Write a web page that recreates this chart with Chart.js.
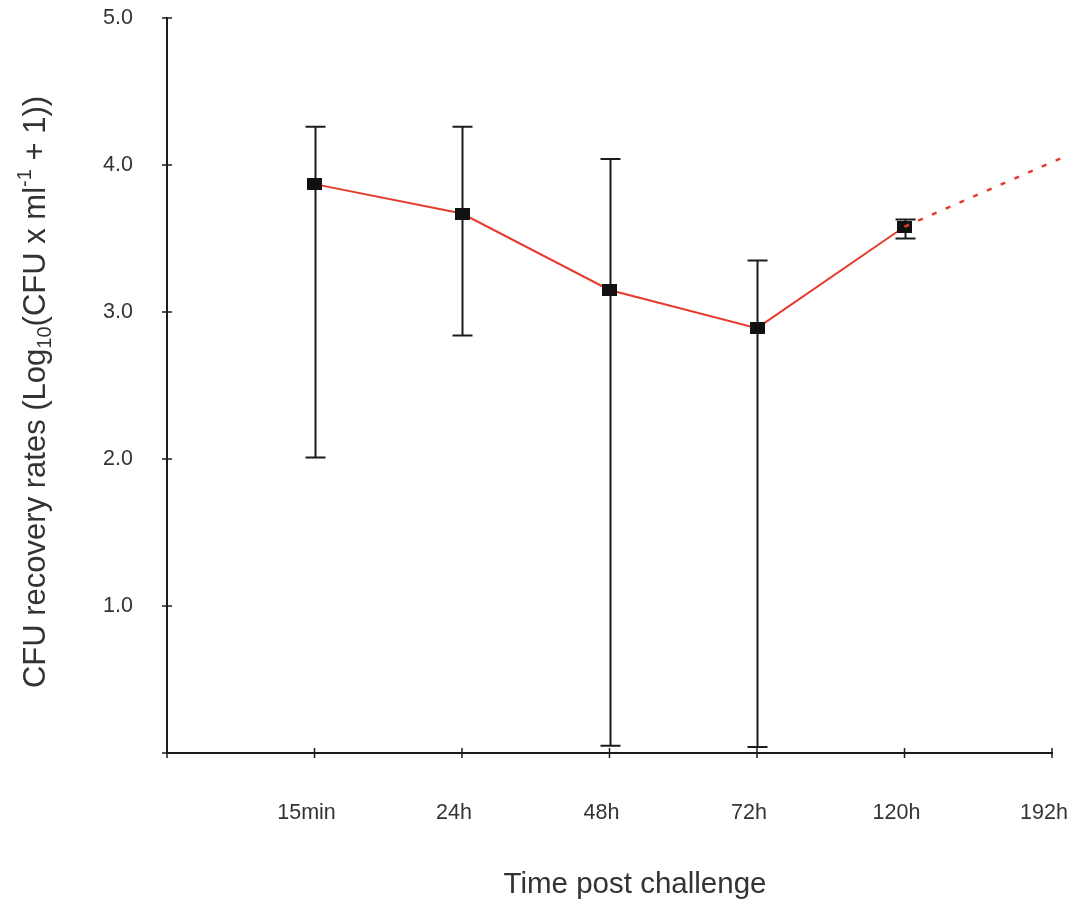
<!DOCTYPE html>
<html>
<head>
<meta charset="utf-8">
<style>
  html, body { margin: 0; padding: 0; background: #fff; }
  #wrap { width: 1068px; height: 906px; }
</style>
</head>
<body>
<div id="wrap">
  <canvas id="cfuChart" width="1068" height="906"></canvas>
</div>

<script src="https://cdnjs.cloudflare.com/ajax/libs/Chart.js/4.4.1/chart.umd.js"></script>
<script>
  // sampling times on the x axis (index 0 is the origin, left blank)
  const timeLabels = ['', '15min', '24h', '48h', '72h', '120h', '192h'];
  const timeIndex  = [1, 2, 3, 4, 5];

  // mean log10 CFU recovery and the error bar ends
  const meanLog  = [3.87, 3.67, 3.15, 2.89, 3.58];
  const errUpper = [4.26, 4.26, 4.04, 3.35, 3.63];
  const errLower = [2.01, 2.84, 0.05, 0.04, 3.50];

  // projected trend after 120h
  const projX = [5, 6.07];
  const projY = [3.58, 4.05];

  const yTicks = [0, 1, 2, 3, 4, 5];

  const FONT = '"Liberation Sans", Arial, Helvetica, sans-serif';
  const INK = '#1c1c1c';
  const TEXT = '#333333';
  const RED = '#e53b2c';

  // black rectangular marker
  const marker = document.createElement('canvas');
  marker.width = 15; marker.height = 12;
  const mctx = marker.getContext('2d');
  mctx.fillStyle = '#111';
  mctx.fillRect(0, 0, 15, 12);

  const errorBars = {
    id: 'errorBars',
    beforeDatasetsDraw(chart) {
      const { ctx, scales: { x, y } } = chart;
      ctx.save();
      ctx.strokeStyle = INK;
      ctx.lineWidth = 2;
      timeIndex.forEach((t, i) => {
        const px = Math.round(x.getPixelForValue(t)) + 0.5;
        const top = y.getPixelForValue(errUpper[i]);
        const bot = y.getPixelForValue(errLower[i]);
        ctx.beginPath();
        ctx.moveTo(px, top); ctx.lineTo(px, bot);
        ctx.moveTo(px - 10, top); ctx.lineTo(px + 10, top);
        ctx.moveTo(px - 10, bot); ctx.lineTo(px + 10, bot);
        ctx.stroke();
      });
      ctx.restore();
    }
  };

  // small tick marks crossing both axes, plus the axis titles
  const axisDecor = {
    id: 'axisDecor',
    afterDraw(chart) {
      const { ctx, scales: { x, y } } = chart;
      const ax = x.getPixelForValue(0);
      const ay = y.getPixelForValue(0);
      ctx.save();
      ctx.strokeStyle = INK;
      ctx.lineWidth = 1.5;
      ctx.beginPath();
      yTicks.forEach(v => {
        const py = y.getPixelForValue(v);
        ctx.moveTo(ax - 5, py); ctx.lineTo(ax + 5, py);
      });
      timeLabels.forEach((_, i) => {
        const px = x.getPixelForValue(i);
        ctx.moveTo(px, ay - 5); ctx.lineTo(px, ay + 5);
      });
      ctx.stroke();

      ctx.fillStyle = TEXT;
      ctx.textBaseline = 'middle';
      ctx.textAlign = 'center';
      ctx.font = '29.5px ' + FONT;
      ctx.fillText('Time post challenge', 635, 885);

      // rotated y title with subscript and superscript pieces
      const parts = [
        { t: 'CFU recovery rates (Log', s: 31, dy: 0 },
        { t: '10', s: 20, dy: 9 },
        { t: '(CFU x ml', s: 31, dy: 0 },
        { t: '-1', s: 20, dy: -11 },
        { t: ' + 1))', s: 31, dy: 0 }
      ];
      let total = 0;
      parts.forEach(p => {
        ctx.font = p.s + 'px ' + FONT;
        p.w = ctx.measureText(p.t).width;
        total += p.w;
      });
      ctx.translate(36, 392);
      ctx.rotate(-Math.PI / 2);
      ctx.textAlign = 'left';
      let cx = -total / 2;
      parts.forEach(p => {
        ctx.font = p.s + 'px ' + FONT;
        ctx.fillText(p.t, cx, p.dy);
        cx += p.w;
      });
      ctx.restore();
    }
  };

  // fixed axis box sizes, without the extra room Chart.js keeps for edge labels
  function fixBox(s, w, h) {
    if (w !== null) s.width = w;
    if (h !== null) s.height = h;
    s.paddingTop = 0; s.paddingBottom = 0;
    s.paddingLeft = 0; s.paddingRight = 0;
  }

  new Chart(document.getElementById('cfuChart'), {
    type: 'line',
    data: {
      datasets: [
        {
          label: 'projection',
          data: projX.map((v, i) => ({ x: v, y: projY[i] })),
          borderColor: RED,
          borderWidth: 2.5,
          borderDash: [5, 10],
          pointRadius: 0,
          clip: false,
          order: 0
        },
        {
          label: 'CFU recovery',
          data: timeIndex.map((v, i) => ({ x: v, y: meanLog[i] })),
          borderColor: RED,
          borderWidth: 2,
          pointStyle: marker,
          pointRadius: 7,
          clip: false,
          order: 1
        }
      ]
    },
    options: {
      responsive: false,
      animation: false,
      layout: { padding: { top: 18, right: 16, left: 0, bottom: 0 } },
      scales: {
        x: {
          type: 'linear',
          min: 0,
          max: 6,
          grid: { display: false, drawTicks: false },
          border: { display: true, color: INK, width: 2 },
          ticks: {
            stepSize: 1,
            padding: 47,
            labelOffset: -8,
            color: TEXT,
            font: { family: FONT, size: 21.5 },
            maxRotation: 0,
            callback: v => timeLabels[v]
          },
          afterFit: s => fixBox(s, null, 153)
        },
        y: {
          min: 0,
          max: 5,
          grid: { display: false, drawTicks: false },
          border: { display: true, color: INK, width: 2 },
          ticks: {
            stepSize: 1,
            padding: 34,
            color: TEXT,
            font: { family: FONT, size: 21.5 },
            callback: v => (v === 0 ? '' : v.toFixed(1))
          },
          afterFit: s => fixBox(s, 167, null)
        }
      },
      plugins: {
        legend: { display: false },
        tooltip: { enabled: false }
      }
    },
    plugins: [errorBars, axisDecor]
  });
</script>
</body>
</html>
